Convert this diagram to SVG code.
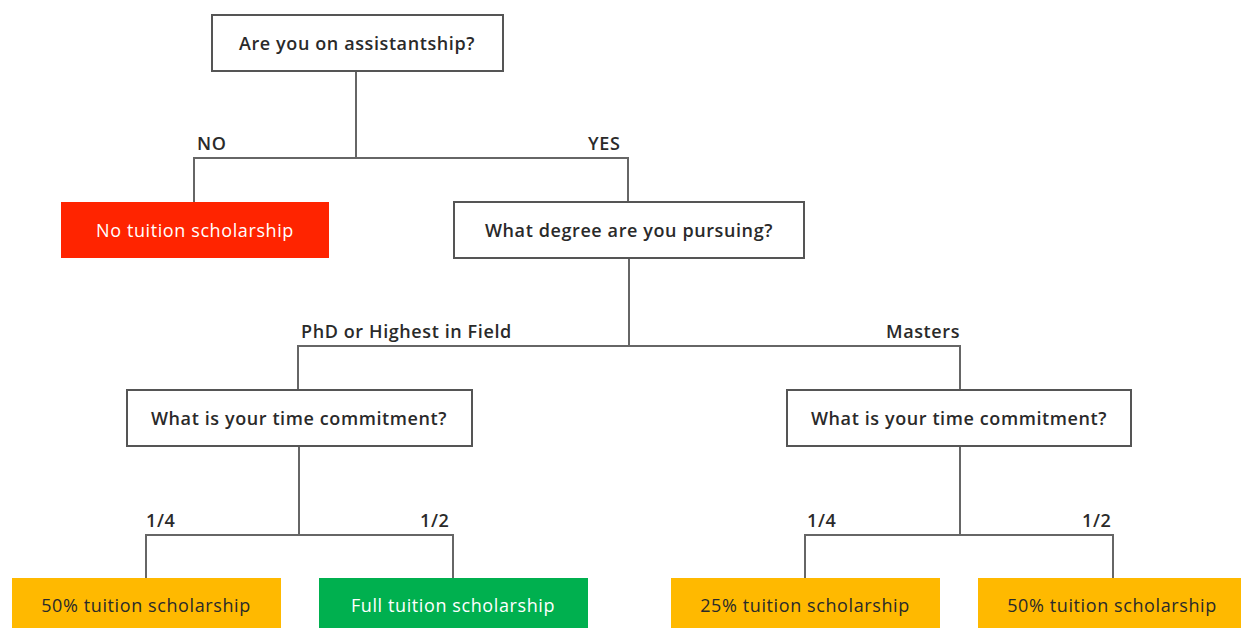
<svg xmlns="http://www.w3.org/2000/svg" width="1241" height="628" viewBox="0 0 1241 628">
<style>
.q{fill:#fff;stroke:#555;stroke-width:2}
.t{font-family:"Open Sans","Liberation Sans",sans-serif;font-size:18px;font-weight:600;letter-spacing:0.6px;fill:#2a2a2a;text-anchor:middle;dominant-baseline:central}
.l{font-family:"Open Sans","Liberation Sans",sans-serif;font-size:18px;font-weight:600;letter-spacing:0.6px;fill:#2a2a2a;dominant-baseline:central}
.r{font-weight:500}
.w{fill:#fff}
.c{fill:none;stroke:#666;stroke-width:2}
</style>
<rect width="1241" height="628" fill="#fff"/>
<g id="connectors">
<path class="c" d="M356 71V158M194 202V158H628V202"/>
<path class="c" d="M629 258V346M298 390V346H960V390"/>
<path class="c" d="M299 446V535M146 578V535H453V578"/>
<path class="c" d="M960 446V535M805 578V535H1113V578"/>
<text class="l" x="197" y="143">NO</text>
<text class="l" x="588" y="143">YES</text>
<text class="l" x="301" y="331">PhD or Highest in Field</text>
<text class="l" x="886" y="331">Masters</text>
<text class="l" x="146" y="520">1/4</text>
<text class="l" x="420" y="520">1/2</text>
<text class="l" x="807" y="520">1/4</text>
<text class="l" x="1082" y="520">1/2</text>
</g>
<g id="q1"><rect class="q" x="212" y="15" width="291" height="56"/><text class="t" x="357" y="43">Are you on assistantship?</text></g>
<g id="noScholarship"><rect x="61" y="202" width="268" height="56" fill="#ff2400"/><text class="t w r" x="195" y="230">No tuition scholarship</text></g>
<g id="q2"><rect class="q" x="454" y="202" width="350" height="56"/><text class="t" x="629" y="230">What degree are you pursuing?</text></g>
<g id="q3"><rect class="q" x="127" y="390" width="345" height="56"/><text class="t" x="299" y="418">What is your time commitment?</text></g>
<g id="q4"><rect class="q" x="787" y="390" width="344" height="56"/><text class="t" x="959" y="418">What is your time commitment?</text></g>
<g id="phd50"><rect x="12" y="578" width="269" height="56" fill="#ffb900"/><text class="t r" x="146" y="605">50% tuition scholarship</text></g>
<g id="phdFull"><rect x="319" y="578" width="269" height="56" fill="#00b04f"/><text class="t w r" x="453" y="605">Full tuition scholarship</text></g>
<g id="ms25"><rect x="671" y="578" width="269" height="56" fill="#ffb900"/><text class="t r" x="805" y="605">25% tuition scholarship</text></g>
<g id="ms50"><rect x="978" y="578" width="269" height="56" fill="#ffb900"/><text class="t r" x="1112" y="605">50% tuition scholarship</text></g>
</svg>
